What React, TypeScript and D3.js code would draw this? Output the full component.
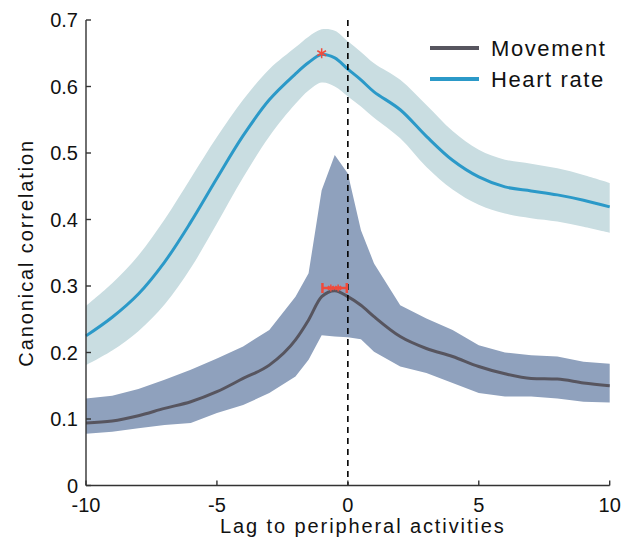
import React from "react";
import * as d3 from "d3";

const lags = [-10, -9, -8, -7, -6, -5, -4, -3, -2, -1.5, -1, -0.5, 0, 0.5, 1, 2, 3, 4, 5, 6, 7, 8, 9, 10];

const heartMean = [0.225, 0.253, 0.288, 0.336, 0.396, 0.462, 0.526, 0.58, 0.619, 0.636, 0.648, 0.643, 0.626, 0.61, 0.592, 0.565, 0.525, 0.489, 0.464, 0.449, 0.443, 0.437, 0.429, 0.419];
const heartUpper = [0.27, 0.304, 0.346, 0.4, 0.462, 0.524, 0.58, 0.626, 0.659, 0.675, 0.686, 0.684, 0.668, 0.652, 0.635, 0.61, 0.572, 0.533, 0.505, 0.49, 0.484, 0.477, 0.467, 0.455];
const heartLower = [0.181, 0.203, 0.232, 0.272, 0.327, 0.394, 0.463, 0.525, 0.574, 0.594, 0.606, 0.6, 0.585, 0.57, 0.553, 0.522, 0.479, 0.445, 0.422, 0.409, 0.402, 0.397, 0.389, 0.38];

const moveMean = [0.094, 0.097, 0.105, 0.116, 0.126, 0.141, 0.161, 0.181, 0.219, 0.249, 0.284, 0.293, 0.284, 0.271, 0.254, 0.224, 0.206, 0.194, 0.179, 0.168, 0.161, 0.16, 0.154, 0.15];
const moveUpper = [0.131, 0.135, 0.145, 0.159, 0.174, 0.191, 0.209, 0.234, 0.284, 0.319, 0.444, 0.497, 0.469, 0.384, 0.334, 0.271, 0.251, 0.234, 0.211, 0.2, 0.196, 0.194, 0.186, 0.183];
const moveLower = [0.078, 0.081, 0.086, 0.091, 0.094, 0.109, 0.121, 0.139, 0.164, 0.189, 0.226, 0.224, 0.223, 0.22, 0.201, 0.179, 0.169, 0.154, 0.139, 0.134, 0.134, 0.131, 0.126, 0.125];

// peak markers
const heartPeak = { lag: -1, value: 0.65 };
const movePeak = { lo: -0.97, hi: -0.04, marks: [-0.65, -0.37], value: 0.297 };

const xTicks = [-10, -5, 0, 5, 10];
const yTicks = [0, 0.1, 0.2, 0.3, 0.4, 0.5, 0.6, 0.7];

const legendItems = [
  { name: "Movement", color: "#57555f" },
  { name: "Heart rate", color: "#2b99c8" },
];

const font = "Arial, 'Liberation Sans', sans-serif";

export default function App() {
  const x = d3.scaleLinear().domain([-10, 10]).range([86, 609.7]);
  const y = d3.scaleLinear().domain([0, 0.7]).range([485.5, 20]);

  const band = (lo: number[], hi: number[], curve: d3.CurveFactory) =>
    d3
      .area<number>()
      .x((d) => x(d))
      .y0((_, i) => y(lo[i]))
      .y1((_, i) => y(hi[i]))
      .curve(curve)(lags) || "";

  const line = (vals: number[], curve: d3.CurveFactory) =>
    d3
      .line<number>()
      .x((d) => x(d))
      .y((_, i) => y(vals[i]))
      .curve(curve)(lags) || "";

  const red = "#ef4b3c";
  const hx = x(heartPeak.lag);
  const hy = y(heartPeak.value);
  const my = y(movePeak.value);

  const asterisk = (cx: number, cy: number, r: number) =>
    [90, 30, 150].map((a) => {
      const t = (a * Math.PI) / 180;
      return (
        <line key={a} x1={cx - r * Math.cos(t)} y1={cy - r * Math.sin(t)} x2={cx + r * Math.cos(t)} y2={cy + r * Math.sin(t)} />
      );
    });

  const smooth = d3.curveCatmullRom.alpha(0.5);

  return (
    <svg width={623} height={544} style={{ position: "absolute", left: 0, top: 0 }}>
      <path d={band(heartLower, heartUpper, smooth)} fill="#c9dde1" />
      <path d={band(moveLower, moveUpper, d3.curveLinear)} fill="#8fa1bd" />
      <path d={line(heartMean, smooth)} fill="none" stroke="#2b99c8" strokeWidth={3} />
      <path d={line(moveMean, d3.curveMonotoneX)} fill="none" stroke="#57555f" strokeWidth={3} />

      {/* zero lag */}
      <line x1={x(0)} x2={x(0)} y1={y(0.7)} y2={y(0)} stroke="#000" strokeWidth={1.6} strokeDasharray="6,5" />

      {/* heart rate peak */}
      <g stroke={red} strokeWidth={1.5}>{asterisk(hx, hy, 5)}</g>

      {/* movement peak error bar */}
      <g stroke={red} strokeWidth={2.5}>
        <line x1={x(movePeak.lo)} x2={x(movePeak.hi)} y1={my} y2={my} />
        <line x1={x(movePeak.lo)} x2={x(movePeak.lo)} y1={my - 5} y2={my + 5} />
        <line x1={x(movePeak.hi)} x2={x(movePeak.hi)} y1={my - 5} y2={my + 5} />
      </g>
      <g stroke={red} strokeWidth={1.5}>
        {movePeak.marks.map((m) => (
          <g key={m}>{asterisk(x(m), my, 3.5)}</g>
        ))}
      </g>

      {/* axes */}
      <g stroke="#333" strokeWidth={1.4}>
        <line x1={x(-10)} x2={x(-10)} y1={y(0.7)} y2={y(0)} />
        <line x1={x(-10)} x2={x(10)} y1={y(0)} y2={y(0)} />
        {yTicks.map((t) => (
          <line key={t} x1={x(-10)} x2={x(-10) + 5} y1={y(t)} y2={y(t)} />
        ))}
        {xTicks.map((t) => (
          <line key={t} x1={x(t)} x2={x(t)} y1={y(0)} y2={y(0) - 5} />
        ))}
      </g>
      <g fontFamily={font} fontSize={20} fill="#111">
        {yTicks.map((t) => (
          <text key={t} x={x(-10) - 8} y={y(t)} dy="0.35em" textAnchor="end">
            {d3.format("~g")(t)}
          </text>
        ))}
        {xTicks.map((t) => (
          <text key={t} x={x(t)} y={y(0) + 26} textAnchor="middle">
            {t}
          </text>
        ))}
      </g>
      <text x={x(0) + 15} y={533} textAnchor="middle" fontFamily={font} fontSize={20} letterSpacing={1.9} fill="#111">
        Lag to peripheral activities
      </text>
      <text transform={`translate(33,${y(0.35)}) rotate(-90)`} textAnchor="middle" fontFamily={font} fontSize={20} letterSpacing={1.9} fill="#111">
        Canonical correlation
      </text>

      {/* legend */}
      {legendItems.map((d, i) => (
        <g key={d.name} transform={`translate(430,${48 + i * 31})`}>
          <line x1={0} x2={49} y1={0} y2={0} stroke={d.color} strokeWidth={4} />
          <text x={61} y={0} dy="0.35em" fontFamily={font} fontSize={22} letterSpacing={1.6} fill="#111">
            {d.name}
          </text>
        </g>
      ))}
    </svg>
  );
}
